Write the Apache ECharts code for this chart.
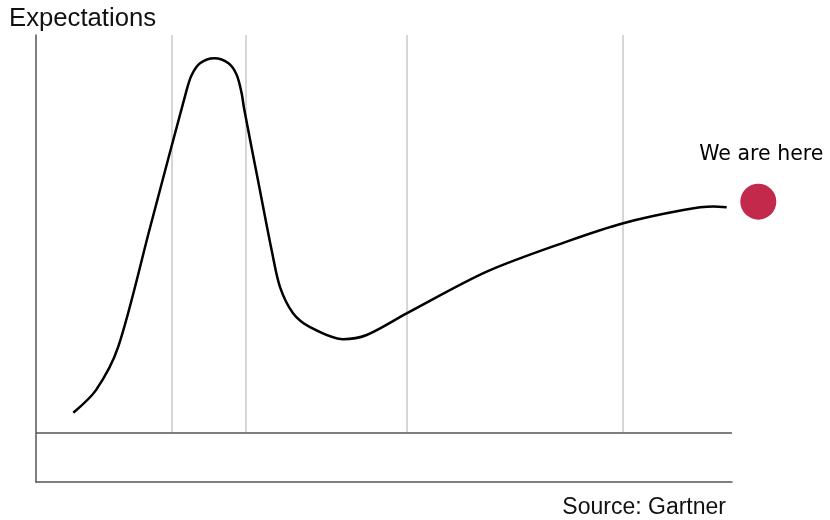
<!DOCTYPE html>
<html>
<head>
<meta charset="utf-8">
<script src="https://cdn.jsdelivr.net/npm/echarts@6/dist/echarts.min.js"></script>
<style>html,body{margin:0;padding:0;background:#fff}#c{width:830px;height:520px}</style>
</head>
<body>
<div id="c"></div>
<script>
// Hype-cycle curve: x = time (0-100), y = expectations
var curveX = [5.36, 8.62, 11.82, 16.38, 21.65, 22.37, 23.56, 25.62, 27.66, 28.84, 29.55, 29.89, 32.04, 33.91, 35.06, 36.93, 39.37, 44.11, 47.51, 53.26, 64.76, 76.25, 84.38, 93.0, 97.31, 99.24];
var curveY = [7.9, 17.0, 34.5, 82.4, 137.9, 143.9, 148.6, 150.6, 148.6, 143.9, 136.5, 130.5, 99.4, 72.6, 58.5, 48.0, 42.4, 37.5, 39.2, 47.9, 64.7, 76.8, 84.2, 89.5, 90.9, 90.6];
var phaseBoundaries = [19.54, 30.17, 53.30, 84.34];
var herePoint = [103.78, 92.9];
var hereLabel = "We are here";
var yTitle = "Expectations";
var sourceText = "Source: Gartner";

var curve = curveX.map(function (x, i) { return [x, curveY[i]]; });
var vLines = phaseBoundaries.map(function (x) {
  return [{ coord: [x, 0] }, { coord: [x, 160] }];
});

var chart = echarts.init(document.getElementById('c'), null, { renderer: 'canvas' });
chart.setOption({
  animation: false,
  backgroundColor: '#fff',
  grid: { left: 36, right: 98, top: 35, bottom: 38 },
  xAxis: {
    type: 'value', min: 0, max: 100,
    axisLine: { show: true, onZero: false, lineStyle: { color: '#555', width: 1.5 } },
    axisTick: { show: false }, axisLabel: { show: false }, splitLine: { show: false }
  },
  yAxis: {
    type: 'value', min: -20, max: 160,
    axisLine: { show: true, lineStyle: { color: '#555', width: 1.5 } },
    axisTick: { show: false }, axisLabel: { show: false }, splitLine: { show: false }
  },
  series: [
    {
      type: 'line',
      data: curve,
      smooth: 0.3,
      symbol: 'none',
      lineStyle: { color: '#000', width: 2.5 },
      z: 5,
      markLine: {
        silent: true, symbol: 'none', label: { show: false },
        lineStyle: { color: '#c8c8c8', width: 1.5, type: 'solid' },
        data: vLines
      }
    },
    {
      type: 'line',
      data: [],
      markLine: {
        silent: true, symbol: 'none', label: { show: false },
        lineStyle: { color: '#555', width: 1.5, type: 'solid' },
        data: [{ yAxis: 0 }]
      }
    },
    {
      type: 'scatter',
      data: [herePoint],
      clip: false,
      symbolSize: 36,
      itemStyle: { color: '#c2294b', opacity: 1 },
      z: 6,
      label: {
        show: true, position: 'top', distance: 18, offset: [3, 0],
        formatter: hereLabel,
        fontFamily: 'DejaVu Sans', fontSize: 20.5, color: '#000'
      }
    }
  ],
  graphic: [
    {
      type: 'text', left: 9, top: 6,
      style: { text: yTitle, font: '25.7px "Liberation Sans", Arial, sans-serif', fill: '#111' }
    },
    {
      type: 'text', right: 104, top: 496,
      style: { text: sourceText, font: '23px "Liberation Sans", Arial, sans-serif', fill: '#111' }
    }
  ]
});
</script>
</body>
</html>
